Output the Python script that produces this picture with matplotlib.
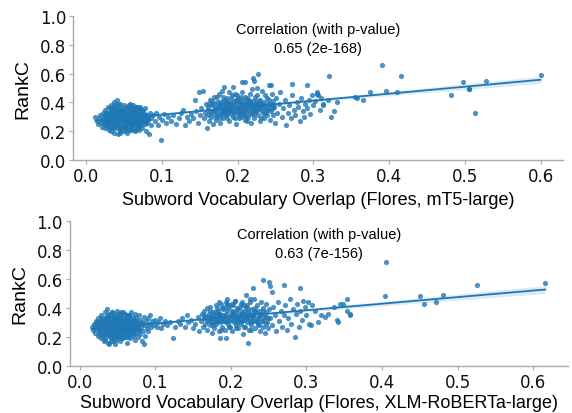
import numpy as np
import matplotlib
matplotlib.use("Agg")
import matplotlib.pyplot as plt

# ---------------- data: top panel (mT5-large) ----------------
top_x = [
    # cluster near 0.05
    0.012,0.014,0.015,0.016,0.018,0.019,0.020,0.021,0.022,0.023,0.024,0.025,0.025,0.026,0.027,0.028,0.028,0.029,0.030,0.030,
    0.031,0.032,0.032,0.033,0.033,0.034,0.034,0.035,0.035,0.036,0.036,0.037,0.037,0.038,0.038,0.039,0.039,0.040,0.040,0.040,
    0.041,0.041,0.042,0.042,0.043,0.043,0.044,0.044,0.045,0.045,0.046,0.046,0.047,0.047,0.048,0.048,0.049,0.049,0.050,0.050,
    0.051,0.051,0.052,0.052,0.053,0.053,0.054,0.054,0.055,0.055,0.056,0.056,0.057,0.057,0.058,0.058,0.059,0.059,0.060,0.060,
    0.061,0.061,0.062,0.062,0.063,0.063,0.064,0.064,0.065,0.065,0.066,0.066,0.067,0.067,0.068,0.068,0.069,0.069,0.070,0.070,
    0.071,0.071,0.072,0.072,0.073,0.074,0.074,0.075,0.076,0.076,0.077,0.078,0.078,0.079,0.080,0.080,0.082,0.083,0.084,0.085,0.086,
    0.030,0.034,0.038,0.042,0.044,0.048,0.050,0.052,0.055,0.058,0.062,0.064,0.068,0.072,0.036,0.040,0.046,0.054,0.060,0.066,
    0.026,0.031,0.039,0.047,0.057,0.063,0.070,0.029,0.037,0.045,0.053,0.061,0.069,0.075,
    # bridge
    0.088,0.090,0.092,0.094,0.096,0.098,0.100,0.102,0.105,0.108,0.112,0.115,0.118,0.122,0.125,0.128,0.130,0.133,0.136,0.138,
    0.141,0.143,0.145,0.147,0.149,0.150,
    # cluster near 0.2
    0.152,0.154,0.155,0.157,0.158,0.159,0.160,0.161,0.162,0.163,0.164,0.165,0.166,0.167,0.168,0.169,0.170,0.171,0.172,0.173,
    0.174,0.175,0.176,0.177,0.178,0.179,0.180,0.181,0.182,0.182,0.183,0.184,0.185,0.186,0.187,0.188,0.189,0.190,0.191,0.192,
    0.193,0.194,0.194,0.195,0.196,0.197,0.198,0.199,0.200,0.201,0.202,0.203,0.204,0.205,0.205,0.206,0.207,0.208,0.209,0.209,
    0.210,0.211,0.212,0.213,0.214,0.215,0.216,0.217,0.218,0.219,0.220,0.220,0.221,0.222,0.222,0.223,0.224,0.225,0.226,0.227,
    0.227,0.228,0.229,0.230,0.231,0.232,0.233,0.234,0.235,0.236,0.237,0.238,0.239,0.240,0.241,0.242,0.243,0.244,0.245,0.246,
    0.247,0.248,0.249,0.250,0.252,0.254,0.256,0.258,0.260,
    0.170,0.175,0.180,0.185,0.188,0.190,0.195,0.198,0.200,0.203,0.206,0.210,0.213,0.216,0.219,0.222,0.226,0.230,0.178,0.183,
    0.192,0.200,0.208,0.215,0.224,0.232,0.187,0.196,0.204,0.212,0.172,0.166,0.160,
    # tail
    0.262,0.264,0.266,0.268,0.270,0.271,0.272,0.274,0.276,0.278,0.280,0.282,0.284,0.286,0.288,0.289,0.291,0.292,0.294,0.296,
    0.298,0.300,0.302,0.304,0.305,0.306,0.308,0.310,0.312,0.312,0.244,0.319,0.323,0.327,0.331,
    # outliers
    0.320,0.355,0.358,0.365,0.375,0.390,0.396,0.416,0.410,0.482,0.497,0.505,0.506,0.513,0.528,0.600,
]
top_y = [
    0.30,0.27,0.25,0.29,0.31,0.26,0.28,0.23,0.33,0.30,0.26,0.22,0.35,0.28,0.31,0.24,0.37,0.27,0.33,0.21,
    0.29,0.25,0.38,0.31,0.20,0.27,0.35,0.23,0.30,0.40,0.26,0.33,0.19,0.29,0.36,0.24,0.31,0.42,0.27,0.22,
    0.34,0.30,0.18,0.26,0.37,0.32,0.28,0.21,0.39,0.25,0.31,0.34,0.23,0.29,0.36,0.20,0.27,0.32,0.38,0.25,
    0.30,0.22,0.35,0.28,0.33,0.19,0.26,0.31,0.37,0.23,0.29,0.34,0.27,0.21,0.32,0.39,0.25,0.30,0.36,0.22,
    0.28,0.33,0.24,0.38,0.30,0.27,0.35,0.20,0.31,0.25,0.37,0.29,0.23,0.33,0.27,0.36,0.30,0.21,0.34,0.26,
    0.29,0.37,0.24,0.32,0.28,0.35,0.22,0.30,0.27,0.33,0.25,0.36,0.29,0.20,0.31,0.26,0.28,0.18,0.33,0.24,0.29,
    0.27,0.31,0.26,0.29,0.33,0.29,0.32,0.26,0.30,0.27,0.31,0.28,0.31,0.28,0.29,0.31,0.27,0.29,0.30,0.26,
    0.33,0.36,0.35,0.35,0.36,0.34,0.32,0.23,0.22,0.23,0.22,0.25,0.24,0.26,
    0.31,0.27,0.33,0.24,0.30,0.14,0.28,0.32,0.26,0.30,0.27,0.31,0.25,0.29,0.33,0.35,0.24,0.30,0.27,0.32,
    0.29,0.42,0.34,0.26,0.47,0.31,
    0.36,0.48,0.29,0.33,0.39,0.22,0.31,0.37,0.27,0.42,0.34,0.30,0.38,0.25,0.35,0.44,0.32,0.28,0.40,0.36,
    0.31,0.46,0.34,0.26,0.38,0.33,0.41,0.29,0.51,0.36,0.35,0.39,0.31,0.43,0.37,0.27,0.34,0.40,0.32,0.45,
    0.36,0.51,0.30,0.38,0.34,0.42,0.25,0.37,0.33,0.40,0.29,0.36,0.44,0.54,0.32,0.38,0.35,0.41,0.54,0.28,
    0.37,0.33,0.43,0.30,0.39,0.35,0.46,0.26,0.38,0.32,0.57,0.41,0.36,0.55,0.29,0.44,0.34,0.39,0.50,0.60,
    0.31,0.37,0.27,0.42,0.35,0.48,0.33,0.40,0.29,0.45,0.37,0.31,0.43,0.35,0.52,0.28,0.39,0.34,0.46,0.31,
    0.41,0.37,0.26,0.43,0.33,0.39,0.47,0.30,0.36,
    0.36,0.38,0.35,0.36,0.39,0.35,0.33,0.40,0.36,0.39,0.34,0.39,0.36,0.33,0.38,0.35,0.38,0.36,0.32,0.42,
    0.39,0.43,0.31,0.42,0.41,0.39,0.33,0.29,0.30,0.27,0.44,0.41,0.35,
    0.42,0.24,0.33,0.38,0.29,0.53,0.45,0.35,0.31,0.40,0.37,0.27,0.43,0.34,0.30,0.39,0.52,0.36,0.42,0.32,
    0.45,0.38,0.41,0.46,0.47,0.45,0.35,0.43,0.39,0.38,0.52,0.42,0.30,0.34,0.40,
    0.58,0.44,0.43,0.42,0.47,0.66,0.48,0.58,0.47,0.45,0.54,0.49,0.49,0.33,0.55,0.59,
]
# extra points in the dense cores of the top panel
top_core_x = [
    0.022,0.024,0.027,0.029,0.031,0.033,0.035,0.037,0.039,0.041,0.043,0.045,0.047,0.049,0.051,0.053,0.055,0.057,0.059,0.061,
    0.063,0.065,0.067,0.069,0.071,0.073,0.075,0.077,0.079,0.081,
    0.023,0.026,0.028,0.031,0.033,0.035,0.038,0.040,0.043,0.045,0.048,0.050,0.053,0.055,0.058,0.060,0.063,0.065,0.068,0.070,
    0.073,0.035,0.042,0.049,0.056,0.064,0.044,0.052,0.059,0.067,
    0.165,0.168,0.171,0.174,0.177,0.180,0.183,0.186,0.189,0.192,0.195,0.198,0.201,0.204,0.207,0.210,0.213,0.216,0.219,0.222,
    0.225,0.228,0.231,0.234,0.237,0.240,0.243,0.246,0.162,0.171,
    0.176,0.181,0.186,0.191,0.196,0.201,0.206,0.211,0.216,0.221,0.226,0.231,0.236,0.241,0.246,0.179,0.189,0.199,0.209,0.219,
]
top_core_y = [
    0.28,0.31,0.26,0.32,0.27,0.29,0.33,0.30,0.28,0.25,0.30,0.34,0.31,0.29,0.27,0.31,0.28,0.32,0.33,0.29,
    0.26,0.33,0.30,0.27,0.31,0.30,0.28,0.31,0.27,0.29,
    0.25,0.29,0.33,0.23,0.34,0.26,0.38,0.24,0.35,0.21,0.32,0.23,0.37,0.26,0.35,0.24,0.36,0.28,0.22,0.36,
    0.34,0.37,0.39,0.34,0.38,0.21,0.19,0.20,0.21,0.37,
    0.33,0.39,0.34,0.37,0.40,0.38,0.33,0.40,0.37,0.35,0.41,0.36,0.34,0.42,0.39,0.35,0.41,0.38,0.35,0.38,
    0.35,0.41,0.38,0.36,0.34,0.39,0.36,0.36,0.39,0.30,
    0.29,0.44,0.29,0.43,0.46,0.31,0.47,0.30,0.40,0.32,0.45,0.29,0.33,0.42,0.38,0.48,0.47,0.45,0.44,0.49,
]

# ---------------- data: bottom panel (XLM-RoBERTa-large) ----------------
bot_x = [
    0.017,0.018,0.019,0.020,0.021,0.022,0.023,0.024,0.025,0.025,0.026,0.027,0.028,0.028,0.029,0.030,0.030,0.031,0.032,0.032,
    0.033,0.033,0.034,0.034,0.035,0.035,0.036,0.036,0.037,0.037,0.038,0.038,0.039,0.039,0.040,0.040,0.041,0.041,0.042,0.042,
    0.043,0.043,0.044,0.044,0.045,0.045,0.046,0.046,0.047,0.047,0.048,0.048,0.049,0.049,0.050,0.050,0.051,0.051,0.052,0.052,
    0.053,0.053,0.054,0.054,0.055,0.055,0.056,0.056,0.057,0.057,0.058,0.058,0.059,0.059,0.060,0.060,0.061,0.061,0.062,0.062,
    0.063,0.063,0.064,0.064,0.065,0.065,0.066,0.066,0.067,0.067,0.068,0.068,0.069,0.069,0.070,0.070,0.071,0.071,0.072,0.072,
    0.073,0.073,0.074,0.074,0.075,0.076,0.076,0.077,0.078,0.078,0.079,0.080,0.080,0.081,0.082,0.083,0.084,0.085,0.085,0.086,
    0.087,0.088,0.089,0.090,0.091,0.092,0.093,0.094,0.096,0.098,
    0.026,0.030,0.034,0.038,0.042,0.046,0.050,0.054,0.058,0.062,0.066,0.070,0.074,0.036,0.044,0.052,0.060,0.068,0.032,0.040,
    0.048,0.056,0.064,0.072,0.038,0.046,0.054,0.029,0.062,
    # bridge
    0.100,0.102,0.104,0.106,0.108,0.110,0.113,0.116,0.120,0.123,0.126,0.130,0.133,0.136,0.139,0.142,0.144,0.147,0.150,0.153,
    0.156,0.158,
    # cluster near 0.2 and tail
    0.160,0.162,0.163,0.164,0.165,0.166,0.167,0.168,0.169,0.170,0.171,0.172,0.173,0.174,0.175,0.176,0.177,0.178,0.179,0.180,
    0.181,0.182,0.183,0.184,0.185,0.186,0.186,0.187,0.188,0.189,0.190,0.191,0.192,0.193,0.194,0.194,0.195,0.196,0.197,0.198,
    0.199,0.200,0.201,0.202,0.203,0.204,0.205,0.206,0.207,0.208,0.209,0.210,0.211,0.212,0.213,0.214,0.215,0.216,0.217,0.218,
    0.219,0.220,0.220,0.221,0.222,0.223,0.223,0.224,0.225,0.226,0.227,0.228,0.229,0.229,0.230,0.231,0.232,0.233,0.234,0.235,
    0.236,0.237,0.238,0.239,0.240,0.241,0.242,0.242,0.243,0.244,0.245,0.246,0.247,0.248,0.249,0.250,0.250,0.252,0.252,0.254,
    0.254,0.256,0.258,0.260,0.262,0.264,0.266,0.268,0.270,0.270,0.272,0.274,0.276,0.278,0.280,0.282,0.285,0.286,0.288,0.290,
    0.291,0.292,0.294,0.296,0.298,0.300,0.302,0.304,0.306,0.308,0.311,0.315,0.319,0.324,0.329,0.336,0.340,0.342,0.345,0.348,
    0.354,0.354,0.357,0.358,
    0.175,0.180,0.185,0.190,0.195,0.200,0.205,0.210,0.215,0.220,0.225,0.230,0.235,0.183,0.193,0.203,0.213,0.223,0.198,0.208,
    0.218,0.188,0.228,
    # outliers
    0.404,0.405,0.450,0.456,0.471,0.481,0.525,0.616,
]
bot_y = [
    0.27,0.25,0.29,0.23,0.28,0.31,0.26,0.21,0.33,0.28,0.24,0.30,0.19,0.35,0.27,0.22,0.32,0.25,0.29,0.17,
    0.37,0.23,0.31,0.27,0.20,0.34,0.39,0.25,0.29,0.16,0.32,0.22,0.27,0.15,0.35,0.24,0.30,0.19,0.27,0.33,
    0.22,0.37,0.26,0.17,0.31,0.28,0.21,0.35,0.25,0.15,0.30,0.33,0.23,0.27,0.19,0.36,0.29,0.25,0.32,0.21,
    0.27,0.34,0.17,0.30,0.24,0.37,0.28,0.22,0.31,0.26,0.19,0.34,0.28,0.23,0.32,0.36,0.26,0.20,0.29,0.33,
    0.24,0.16,0.31,0.27,0.35,0.22,0.29,0.25,0.32,0.19,0.27,0.37,0.23,0.30,0.26,0.34,0.21,0.29,0.31,0.25,
    0.36,0.18,0.28,0.23,0.33,0.27,0.30,0.20,0.25,0.35,0.29,0.22,0.32,0.27,0.17,0.30,0.24,0.15,0.34,0.28,
    0.21,0.31,0.26,0.33,0.24,0.29,0.35,0.27,0.31,0.28,
    0.27,0.27,0.25,0.28,0.25,0.29,0.26,0.27,0.30,0.26,0.28,0.28,0.26,0.31,0.30,0.30,0.28,0.31,0.23,0.21,
    0.22,0.25,0.24,0.22,0.34,0.33,0.34,0.30,0.35,
    0.32,0.27,0.30,0.33,0.26,0.29,0.31,0.28,0.30,0.19,0.27,0.31,0.29,0.33,0.27,0.35,0.30,0.32,0.26,0.29,
    0.34,0.24,
    0.31,0.36,0.27,0.33,0.38,0.29,0.34,0.40,0.25,0.31,0.36,0.28,0.41,0.33,0.23,0.30,0.37,0.26,0.34,0.42,
    0.29,0.32,0.38,0.24,0.35,0.19,0.30,0.43,0.27,0.33,0.39,0.31,0.25,0.36,0.19,0.44,0.46,0.29,0.34,0.40,
    0.27,0.32,0.37,0.24,0.42,0.30,0.35,0.45,0.28,0.33,0.39,0.26,0.31,0.36,0.43,0.29,0.34,0.22,0.38,0.32,
    0.27,0.49,0.41,0.35,0.30,0.16,0.37,0.25,0.44,0.33,0.28,0.39,0.54,0.35,0.31,0.46,0.26,0.37,0.33,0.42,
    0.29,0.38,0.24,0.35,0.44,0.31,0.59,0.27,0.40,0.34,0.23,0.37,0.43,0.30,0.26,0.58,0.39,0.55,0.33,0.51,
    0.28,0.41,0.35,0.24,0.44,0.31,0.38,0.27,0.56,0.35,0.42,0.25,0.33,0.46,0.29,0.39,0.20,0.36,0.43,0.27,
    0.54,0.38,0.32,0.45,0.41,0.35,0.44,0.29,0.28,0.42,0.38,0.30,0.35,0.34,0.36,0.41,0.32,0.30,0.43,0.43,
    0.46,0.38,0.36,0.35,
    0.33,0.31,0.33,0.35,0.32,0.35,0.32,0.34,0.37,0.33,0.36,0.34,0.31,0.36,0.30,0.38,0.31,0.39,0.42,0.40,
    0.42,0.40,0.31,
    0.48,0.72,0.48,0.43,0.44,0.49,0.56,0.57,
]
# extra points in the dense cores of the bottom panel
bot_core_x = [
    0.021,0.024,0.027,0.029,0.031,0.033,0.035,0.037,0.039,0.041,0.043,0.045,0.047,0.049,0.051,0.053,0.055,0.057,0.059,0.061,
    0.063,0.065,0.067,0.069,0.071,0.073,0.075,0.077,0.079,0.082,
    0.023,0.026,0.028,0.031,0.034,0.036,0.038,0.041,0.044,0.046,0.049,0.051,0.054,0.056,0.059,0.061,0.064,0.066,0.069,0.071,
    0.074,0.034,0.041,0.048,0.055,0.063,0.043,0.050,0.058,0.066,
    0.168,0.171,0.174,0.177,0.180,0.183,0.186,0.189,0.192,0.195,0.198,0.201,0.204,0.207,0.210,0.213,0.216,0.219,0.222,0.225,
    0.228,0.231,0.234,0.237,0.240,0.243,0.246,0.249,0.165,0.172,
    0.177,0.182,0.187,0.192,0.197,0.202,0.207,0.212,0.217,0.222,0.227,0.232,0.237,0.242,0.247,0.185,0.195,0.205,0.215,0.225,
]
bot_core_y = [
    0.26,0.29,0.25,0.28,0.31,0.26,0.28,0.24,0.31,0.27,0.29,0.25,0.28,0.31,0.23,0.29,0.26,0.28,0.25,0.30,
    0.28,0.27,0.24,0.27,0.25,0.29,0.30,0.27,0.25,0.29,
    0.30,0.22,0.33,0.20,0.33,0.22,0.36,0.23,0.34,0.19,0.33,0.21,0.36,0.30,0.21,0.34,0.20,0.33,0.29,0.32,
    0.31,0.18,0.17,0.18,0.19,0.22,0.37,0.38,0.37,0.35,
    0.32,0.34,0.30,0.35,0.37,0.31,0.36,0.31,0.34,0.38,0.31,0.35,0.33,0.37,0.30,0.35,0.32,0.36,0.33,0.30,
    0.35,0.38,0.30,0.33,0.36,0.31,0.34,0.33,0.35,0.38,
    0.28,0.40,0.25,0.41,0.27,0.43,0.26,0.41,0.27,0.42,0.25,0.40,0.28,0.38,0.29,0.44,0.43,0.45,0.44,0.46,
]

top_label = "Subword Vocabulary Overlap (Flores, mT5-large)"
bot_label = "Subword Vocabulary Overlap (Flores, XLM-RoBERTa-large)"
top_corr = "Correlation (with p-value)\n0.65 (2e-168)"
bot_corr = "Correlation (with p-value)\n0.63 (7e-156)"
y_ticks = [0.0, 0.2, 0.4, 0.6, 0.8, 1.0]
x_ticks = [0.0, 0.1, 0.2, 0.3, 0.4, 0.5, 0.6]

color = "#1f77b4"
label_font = ["Liberation Sans", "DejaVu Sans"]

fig = plt.figure(figsize=(5.72, 4.14), dpi=100)
ax_top = fig.add_axes([0.128, 0.611, 0.856, 0.348])
ax_bot = fig.add_axes([0.122, 0.1135, 0.871, 0.3505])


def panel(ax, xs, ys, xlabel, corr, xpad):
    xs = np.asarray(xs)
    ys = np.asarray(ys)
    ax.scatter(xs, ys, s=14, color=color, alpha=0.8, linewidths=0, zorder=2)
    # linear fit with 95% confidence band for the mean
    slope, icpt = np.polyfit(xs, ys, 1)
    grid = np.linspace(xs.min(), xs.max(), 100)
    fit = icpt + slope * grid
    n = len(xs)
    resid = ys - (icpt + slope * xs)
    s_err = np.sqrt(np.sum(resid ** 2) / (n - 2))
    se = s_err * np.sqrt(1.0 / n + (grid - xs.mean()) ** 2 / np.sum((xs - xs.mean()) ** 2))
    ax.fill_between(grid, fit - 1.96 * se, fit + 1.96 * se, color=color, alpha=0.15,
                    linewidth=0, zorder=1)
    ax.plot(grid, fit, color=color, lw=1.3, zorder=1.5)
    ax.set_ylim(0, 1.0)
    ax.set_yticks(y_ticks)
    ax.set_xticks(x_ticks)
    ax.set_yticklabels([f"{v:.1f}" for v in y_ticks])
    ax.set_xticklabels([f"{v:.1f}" for v in x_ticks])
    ax.margins(x=0.05)
    for side in ("top", "right"):
        ax.spines[side].set_visible(False)
    for side in ("left", "bottom"):
        ax.spines[side].set_color("#aaaaaa")
        ax.spines[side].set_linewidth(1.0)
    ax.tick_params(axis="both", labelsize=12, length=3, color="#aaaaaa", pad=2,
                   labelcolor="#111111")
    ax.set_ylabel("RankC", fontsize=14, family=label_font, labelpad=6)
    ax.set_xlabel(xlabel, fontsize=13, family=label_font, labelpad=xpad)
    ax.text(0.5, 0.96, corr, transform=ax.transAxes, ha="center", va="top",
            fontsize=10.5, family=label_font, linespacing=1.45)


panel(ax_top, top_x + top_core_x, top_y + top_core_y, top_label, top_corr, 4)
panel(ax_bot, bot_x + bot_core_x, bot_y + bot_core_y, bot_label, bot_corr, 2)

fig.savefig("out.png", dpi=100)
